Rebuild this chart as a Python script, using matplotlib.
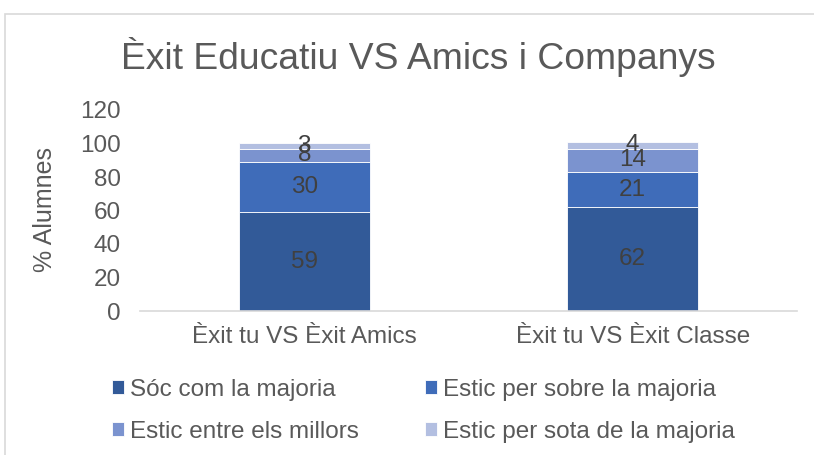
import matplotlib
matplotlib.use("Agg")
import matplotlib.pyplot as plt
from matplotlib.patches import Rectangle

plt.rcParams["font.family"] = ["Liberation Sans", "DejaVu Sans"]

# ---------------------------------------------------------------------------
# Data
# ---------------------------------------------------------------------------
categories = ["Èxit tu VS Èxit Amics", "Èxit tu VS Èxit Classe"]
series_names = [
    "Sóc com la majoria",
    "Estic per sobre la majoria",
    "Estic entre els millors",
    "Estic per sota de la majoria",
]
soc_com = [59, 62]
per_sobre = [30, 21]
entre_millors = [8, 14]
per_sota = [3, 4]
yticks = [0, 20, 40, 60, 80, 100, 120]

COLOURS = ["#325A98", "#3F6CB9", "#7B93CF", "#B3BFE1"]
TEXT = "#595959"
LABEL = "#404040"
FS = 17.5

fig = plt.figure(figsize=(8.14, 4.55), dpi=100)
# chart-area border (right and bottom edges fall outside the image)
fig.patches.append(Rectangle((5 / 814, -0.1), 1.0, 1 - 14 / 455 + 0.1,
                             transform=fig.transFigure, fill=False,
                             edgecolor="#D9D9D9", linewidth=1.2))

ax = fig.add_axes([140 / 814, 1 - 311 / 455, 657 / 814, 201 / 455])

x = list(range(len(categories)))
bottom = [0, 0]
for name, vals, col in zip(series_names, [soc_com, per_sobre, entre_millors, per_sota], COLOURS):
    ax.bar(x, vals, width=0.4, bottom=bottom, color=col, label=name,
           edgecolor="white", linewidth=0.6)
    for xi, v, b in zip(x, vals, bottom):
        ax.text(xi, b + v / 2, str(v), ha="center", va="center",
                fontsize=FS, color=LABEL)
    bottom = [b + v for b, v in zip(bottom, vals)]

ax.set_xlim(-0.5, 1.5)
ax.set_ylim(0, 120)
ax.set_yticks(yticks)
ax.set_xticks(x)
ax.set_xticklabels(categories)
ax.tick_params(axis="both", length=0, labelsize=FS, labelcolor=TEXT)
ax.tick_params(axis="x", pad=11)
ax.tick_params(axis="y", pad=14)
for side in ("top", "right", "left"):
    ax.spines[side].set_visible(False)
ax.spines["bottom"].set_color("#D9D9D9")
ax.spines["bottom"].set_linewidth(1.2)
ax.set_ylabel("% Alumnes", fontsize=18, color=TEXT)
ax.yaxis.set_label_coords((57 - 140) / 657, 0.507)

fig.text(418 / 814, 1 - 57 / 455, "Èxit Educatiu VS Amics i Companys",
         ha="center", va="center", fontsize=26.8, color=TEXT)

# legend: two columns, filled row by row
handles, labels = ax.get_legend_handles_labels()
legend_kw = dict(loc="upper left", frameon=False, fontsize=FS, labelcolor=TEXT,
                 handlelength=0.5, handleheight=0.5, handletextpad=0.25,
                 labelspacing=0.82, borderaxespad=0, borderpad=0)
fig.legend([handles[0], handles[2]], [labels[0], labels[2]],
           bbox_to_anchor=(112 / 814, 1 - 379 / 455), **legend_kw)
fig.legend([handles[1], handles[3]], [labels[1], labels[3]],
           bbox_to_anchor=(425 / 814, 1 - 379 / 455), **legend_kw)

fig.savefig("out.png", dpi=100)
